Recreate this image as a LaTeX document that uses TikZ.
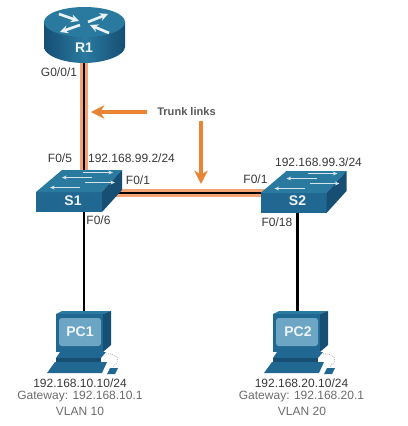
\documentclass[tikz,border=0pt]{standalone}
\usepackage{fontspec}
\setmainfont{Liberation Sans}
\usetikzlibrary{arrows.meta}
\usetikzlibrary{backgrounds}

\definecolor{topblue}{RGB}{42,122,160}
\definecolor{sideblue}{RGB}{32,104,146}
\definecolor{darkblue}{RGB}{22,78,116}
\definecolor{screenblue}{RGB}{108,166,196}
\definecolor{halo}{RGB}{244,164,116}
\definecolor{callout}{RGB}{232,132,52}

\tikzset{
  port/.style={font=\fontsize{9}{11}\selectfont,text=black!78},
  gate/.style={font=\fontsize{9}{11}\selectfont,text=black!58},
  device/.style={font=\bfseries\fontsize{10.5}{12}\selectfont,text=white!92!topblue},
  trunkhalo/.style={line width=6pt,color=halo},
  wire/.style={line width=1.6pt,color=black},
  calloutarrow/.style={line width=2.6pt,color=callout,-{Stealth[length=10pt,width=10pt,inset=3pt]}},
  routerarrow/.style={white!90!topblue,line width=2pt,-{Stealth[length=6pt,width=6pt]}},
  switcharrow/.style={white!80!topblue,line width=0.9pt,-{Stealth[length=3.5pt,width=3pt]}},
  pics/switchbox/.style={code={
    \fill[sideblue] (0,0) rectangle (66,20);
    \fill[topblue] (0,0) -- (26,-22) -- (86,-22) -- (66,0) -- cycle;
    \fill[darkblue] (66,0) -- (86,-22) -- (86,-2) -- (66,20) -- cycle;
    \draw[switcharrow] (47,-19.5) -- (77,-19.5);
    \draw[switcharrow] (56,-14.5) -- (26,-14.5);
    \draw[switcharrow] (49,-9.5) -- (79,-9.5);
    \draw[switcharrow] (44,-4.5) -- (14,-4.5);
  }},
  pics/pcbox/.style={code={
    % monitor
    \fill[topblue] (0,3) -- (6,0) -- (55,0) -- (47,3) -- cycle;
    \fill[darkblue] (47,3) -- (55,0) -- (55,34) -- (47,41) -- cycle;
    \fill[sideblue] (0,3) -- (47,3) -- (47,41) -- (0,41) -- cycle;
    \fill[screenblue,rounded corners=2pt] (3,7) rectangle (45,35);
    % stand
    \fill[sideblue] (4,41) -- (50,41) -- (45,47) -- (0,47) -- cycle;
    \fill[darkblue] (0,47) -- (45,47) -- (45,52) -- (0,52) -- cycle;
    % keyboard
    \fill[sideblue] (-1,51) -- (51,51) -- (46,62) -- (-9,62) -- cycle;
    % mouse
    \fill[sideblue] (54,57) -- (62,57) -- (59,63) -- (51,63) -- cycle;
    \draw[black!45,densely dotted,line width=0.5pt] (50,43) .. controls (62,42) and (66,50) .. (56,56);
  }},
}

\begin{document}
\begin{tikzpicture}[x=0.75pt,y=0.75pt,yscale=-1,xscale=1]
\useasboundingbox (0,0) rectangle (408,426);

%Shape: Router body
\path[left color=darkblue,right color=darkblue,middle color=topblue] (44,22) -- (44,47) .. controls (44,55) and (62,63) .. (84,63) .. controls (106,63) and (125,55) .. (125,47) -- (125,22) -- cycle;
\fill[topblue] (84.5,22) ellipse [x radius=40.5,y radius=15];
\draw[routerarrow] (59,14) -- (79,21);
\draw[routerarrow] (88,22) -- (108,14);
\draw[routerarrow] (80,25) -- (60,32);
\draw[routerarrow] (109,33) -- (90,25);

%Shape: Switches
\pic[transform shape] at (36,192) {switchbox};
\pic[transform shape] at (260.5,193) {switchbox};

%Shape: Hosts
\pic[transform shape] at (56,311) {pcbox};
\pic[transform shape] at (273,311) {pcbox};

% Device Nodes
\node[device] (R1) at (84,48) {R1};
\node[device] (S1) at (73,201) {S1};
\node[device] (S2) at (297.5,201) {S2};
\node[device] (PC1) at (80,332) {PC1};
\node[device] (PC2) at (298,332) {PC2};

%Links
\begin{pgfonlayer}{background}
\draw[trunkhalo] (R1) -- (S1 -| R1);
\draw[wire] (R1) -- (S1 -| R1);
\draw[trunkhalo] ([yshift=-6pt]S1.center) -- ([yshift=-6pt]S2.center);
\draw[wire] ([yshift=-6pt]S1.center) -- ([yshift=-6pt]S2.center);
\draw[wire] (S1 -| R1) -- (PC1 -| R1);
\draw[wire] (S2) -- (PC2 -| S2);
\end{pgfonlayer}

%Callouts
\node[font=\bfseries\fontsize{8.3}{10}\selectfont,text=black!65] (trunk) at (186.5,112) {Trunk links};
\coordinate (R1link) at (91,112);
\coordinate (S12link) at (201,184);
\draw[calloutarrow] ([xshift=-4pt]trunk.west) -- (R1link);
\draw[calloutarrow] (trunk.south -| S12link) -- (S12link);

% Text Node
\node[port] (g001) at (59,72) {G0/0/1};
\node[port] (f05) at (60,158) {F0/5};
\node[port] (ip1) at (131.5,158) {192.168.99.2/24};
\node[port] (f01a) at (138,180) {F0/1};
\node[port] (f06) at (98.5,220) {F0/6};
\node[port] (ip2) at (318.5,162) {192.168.99.3/24};
\node[port] (f01b) at (255.5,179) {F0/1};
\node[port] (f018) at (277,222) {F0/18};
\node[port] (ip3) at (80,383) {192.168.10.10/24};
\node[gate] (gw1) at (80,397) {Gateway: 192.168.10.1};
\node[gate] (vl1) at (80,411) {VLAN 10};
\node[port] (ip4) at (301.5,383) {192.168.20.10/24};
\node[gate] (gw2) at (301.5,397) {Gateway: 192.168.20.1};
\node[gate] (vl2) at (302,411) {VLAN 20};

\end{tikzpicture}
\end{document}
